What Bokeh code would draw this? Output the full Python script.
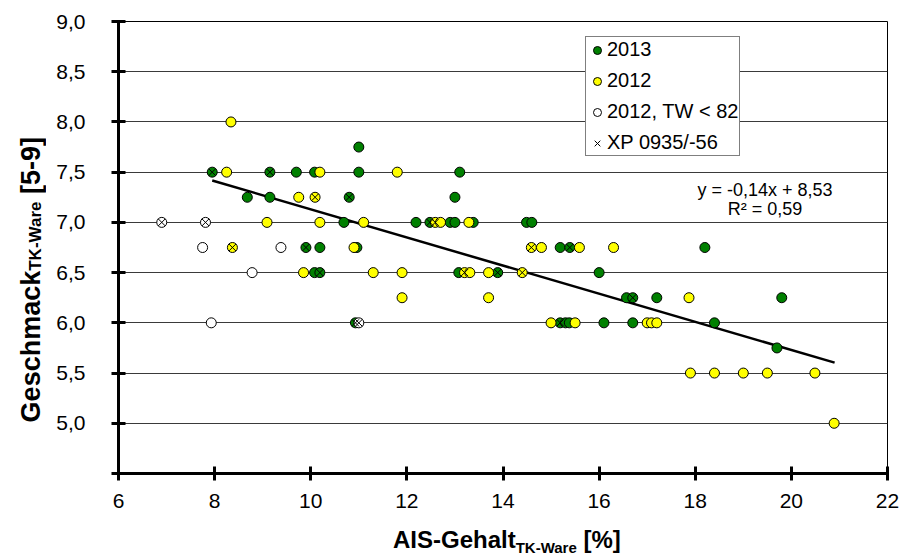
from bokeh.plotting import figure
from bokeh.models import Range1d, FixedTicker, Legend, LegendItem, Label, Div
from bokeh.layouts import column, row
from bokeh.embed import file_html
from bokeh.resources import INLINE

# ---------------- data ----------------
x_2013 = [7.95, 9.15, 9.70, 10.08, 11.00, 13.10, 11.00, 8.68, 9.15, 10.80, 13.00,
          10.69, 12.19, 12.48, 12.90, 13.00, 13.38, 14.49, 14.60,
          9.90, 10.19, 10.96, 15.19, 15.39, 18.20,
          10.08, 10.19, 13.08, 13.89, 16.00,
          16.57, 16.70, 17.20, 19.80,
          10.93, 15.19, 15.30, 15.38, 16.10, 16.70, 18.40,
          19.70]
y_2013 = [7.50, 7.50, 7.50, 7.50, 7.50, 7.50, 7.75, 7.25, 7.25, 7.25, 7.25,
          7.00, 7.00, 7.00, 7.00, 7.00, 7.00, 7.00, 7.00,
          6.75, 6.75, 6.75, 6.75, 6.75, 6.75,
          6.50, 6.50, 6.50, 6.50, 6.50,
          6.25, 6.25, 6.25, 6.25,
          6.00, 6.00, 6.00, 6.00, 6.00, 6.00, 6.00,
          5.75]

x_2012 = [8.34, 8.25, 10.19, 11.80, 9.75, 10.09,
          9.09, 10.19, 11.10, 12.59, 12.70, 13.29,
          8.37, 10.90, 14.59, 14.80, 15.59, 16.30,
          9.85, 11.30, 11.90, 13.20, 13.31, 13.70, 14.40,
          11.90, 13.70, 17.87,
          15.00, 15.50, 17.00, 17.09, 17.20,
          17.90, 18.40, 19.00, 19.50, 20.49,
          20.89]
y_2012 = [8.00, 7.50, 7.50, 7.50, 7.25, 7.25,
          7.00, 7.00, 7.00, 7.00, 7.00, 7.00,
          6.75, 6.75, 6.75, 6.75, 6.75, 6.75,
          6.50, 6.50, 6.50, 6.50, 6.50, 6.50, 6.50,
          6.25, 6.25, 6.25,
          6.00, 6.00, 6.00, 6.00, 6.00,
          5.50, 5.50, 5.50, 5.50, 5.50,
          5.00]

x_tw = [6.90, 7.81, 7.75, 9.38, 8.78, 7.93, 11.00]
y_tw = [7.00, 7.00, 6.75, 6.75, 6.50, 6.00, 6.00]

x_xp = [7.95, 9.15, 10.80, 12.48, 9.90, 15.39, 10.19, 13.89, 16.70, 10.93, 15.19,
        10.09, 12.59, 8.37, 14.59, 13.20, 14.40,
        6.90, 7.81, 11.00]
y_xp = [7.50, 7.50, 7.25, 7.00, 6.75, 6.75, 6.50, 6.50, 6.25, 6.00, 6.00,
        7.25, 7.00, 6.75, 6.75, 6.50, 6.50,
        7.00, 7.00, 6.00]

trend_slope = -0.14
trend_intercept = 8.53
trend_x = [7.95, 20.90]
trend_y = [trend_slope * v + trend_intercept for v in trend_x]
equation_text = "y = -0,14x + 8,53"
r2_text = "R² = 0,59"

x_ticks = [6, 8, 10, 12, 14, 16, 18, 20, 22]
y_ticks = [4.5, 5.0, 5.5, 6.0, 6.5, 7.0, 7.5, 8.0, 8.5, 9.0]
y_tick_labels = ["", "5,0", "5,5", "6,0", "6,5", "7,0", "7,5", "8,0", "8,5", "9,0"]

legend_labels = ["2013", "2012", "2012, TW < 82", "XP 0935/-56"]
x_title = ("AIS-Gehalt", "TK-Ware", " [%]")
y_title = ("Geschmack", "TK-Ware", " [5-9]")

# ---------------- figure ----------------
FONT = "Liberation Sans"
GREEN = "#008000"
YELLOW = "#FFFF00"

p = figure(width=847, height=515, output_backend="svg", toolbar_location=None,
           x_range=Range1d(6, 22), y_range=Range1d(4.5, 9.0),
           min_border_left=65, min_border_right=13, min_border_top=21, min_border_bottom=42)
p.background_fill_color = "white"
p.border_fill_color = "white"
p.outline_line_color = "black"
p.outline_line_width = 1

for ax, ticks in ((p.xaxis, x_ticks), (p.yaxis, y_ticks)):
    ax.ticker = FixedTicker(ticks=ticks)
    ax.axis_line_width = 3
    ax.axis_line_color = "black"
    ax.major_tick_line_width = 3
    ax.major_tick_line_color = "black"
    ax.major_tick_in = 7
    ax.major_tick_out = 7
    ax.minor_tick_line_color = None
    ax.major_label_text_font = FONT
    ax.major_label_text_font_size = "21px"
    ax.major_label_text_color = "black"

p.yaxis.major_label_overrides = {t: l for t, l in zip(y_ticks, y_tick_labels)}
p.yaxis.major_label_standoff = 26
p.xaxis.major_label_standoff = 13

p.xgrid.grid_line_color = None
p.ygrid.ticker = FixedTicker(ticks=y_ticks)
p.ygrid.grid_line_color = "#3a3a3a"
p.ygrid.grid_line_width = 1

p.line(trend_x, trend_y, line_color="black", line_width=2.5)

r13 = p.scatter(x_2013, y_2013, marker="circle", size=10, fill_color=GREEN,
                line_color="black", line_width=1)
r12 = p.scatter(x_2012, y_2012, marker="circle", size=10, fill_color=YELLOW,
                line_color="black", line_width=1)
rtw = p.scatter(x_tw, y_tw, marker="circle", size=10, fill_color="white",
                line_color="black", line_width=1)
rxp = p.scatter(x_xp, y_xp, marker="x", size=10, line_color="black", line_width=1)

legend = Legend(items=[LegendItem(label=legend_labels[0], renderers=[r13]),
                       LegendItem(label=legend_labels[1], renderers=[r12]),
                       LegendItem(label=legend_labels[2], renderers=[rtw]),
                       LegendItem(label=legend_labels[3], renderers=[rxp])],
                location=(467, 317))
legend.label_text_font = FONT
legend.label_text_font_size = "20px"
legend.label_text_color = "black"
legend.label_standoff = 0
legend.glyph_width = 20
legend.glyph_height = 22
legend.label_height = 22
legend.spacing = 8
legend.padding = 1
legend.margin = 0
legend.border_line_color = "black"
legend.border_line_width = 1
legend.background_fill_color = "white"
legend.background_fill_alpha = 1
p.add_layout(legend)

p.add_layout(Label(x=19.45, y=7.325, text=equation_text, text_align="center",
                   text_baseline="middle", text_font=FONT, text_font_size="18px",
                   text_color="black"))
p.add_layout(Label(x=19.45, y=7.135, text=r2_text, text_align="center",
                   text_baseline="middle", text_font=FONT, text_font_size="18px",
                   text_color="black"))

# axis titles as HTML (subscripts)
xt = Div(width=900, height=45, margin=0, text=(
    "<div style=\"position:absolute; left:393px; top:13px; white-space:nowrap; "
    "font-family:'Liberation Sans'; font-weight:bold; font-size:24px; line-height:24px; color:black\">"
    f"{x_title[0]}<span style=\"font-size:15px; vertical-align:-5px\">{x_title[1]}</span>{x_title[2]}</div>"))
yt = Div(width=53, height=515, margin=0, text=(
    "<div style=\"position:absolute; left:16px; bottom:93px; white-space:nowrap; "
    "writing-mode:vertical-rl; transform:rotate(180deg); "
    "font-family:'Liberation Sans'; font-weight:bold; font-size:27px; line-height:30px; color:black\">"
    f"{y_title[0]}<span style=\"font-size:17px; vertical-align:-5px\">{y_title[1]}</span>{y_title[2]}</div>"))

layout = column(row(yt, p, spacing=0), xt, spacing=0)

open("out.html", "w").write(file_html(layout, INLINE))
